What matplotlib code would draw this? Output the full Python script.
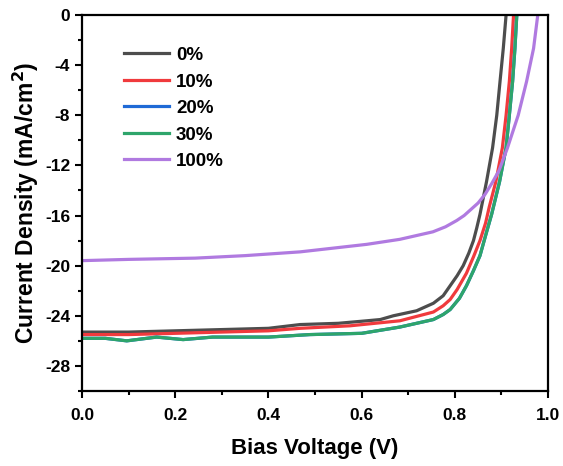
import matplotlib
matplotlib.use('Agg')
import matplotlib.pyplot as plt
from matplotlib.ticker import MultipleLocator

plt.rcParams['font.family'] = ['Liberation Sans', 'DejaVu Sans']
plt.rcParams['font.weight'] = 'bold'

labels = ['0%', '10%', '20%', '30%', '100%']
colors = ['#4d4d4d', '#f03a3d', '#1f6ad6', '#2ea56b', '#b07ae0']

v_0 = [0.0, 0.1, 0.2, 0.3, 0.4, 0.468, 0.55, 0.611, 0.64, 0.668, 0.718, 0.754, 0.775, 0.79,
       0.805, 0.818, 0.83, 0.84, 0.847, 0.854, 0.868, 0.881, 0.89, 0.897, 0.904, 0.91]
j_0 = [-25.3, -25.3, -25.2, -25.1, -25.0, -24.7, -24.6, -24.4, -24.3, -24.0, -23.6, -23.0, -22.4, -21.6,
       -20.8, -20.0, -19.0, -18.0, -17.0, -15.9, -13.3, -10.6, -8.0, -5.3, -2.66, 0.0]

v_10 = [0.0, 0.1, 0.2, 0.3, 0.4, 0.468, 0.575, 0.682, 0.754, 0.775, 0.79, 0.805, 0.825,
        0.84, 0.854, 0.866, 0.874, 0.888, 0.902, 0.91, 0.917, 0.922, 0.926]
j_10 = [-25.5, -25.5, -25.4, -25.3, -25.2, -25.0, -24.8, -24.4, -23.7, -23.2, -22.7, -21.9, -20.6,
        -19.3, -18.0, -16.6, -15.3, -13.3, -10.6, -8.0, -5.3, -2.66, 0.0]

v_20 = [0.0, 0.05, 0.096, 0.16, 0.217, 0.28, 0.4, 0.489, 0.6, 0.682, 0.754, 0.775, 0.79,
        0.81, 0.825, 0.84, 0.854, 0.866, 0.879, 0.896, 0.91, 0.917, 0.924, 0.929, 0.933]
j_20 = [-25.8, -25.8, -26.0, -25.7, -25.9, -25.7, -25.7, -25.5, -25.4, -24.9, -24.3, -23.9, -23.5,
        -22.6, -21.6, -20.4, -19.2, -17.6, -15.9, -13.3, -10.6, -8.0, -5.3, -2.66, 0.0]

v_30 = [0.0, 0.05, 0.096, 0.16, 0.217, 0.28, 0.4, 0.489, 0.6, 0.682, 0.754, 0.775, 0.79,
        0.81, 0.825, 0.84, 0.854, 0.866, 0.879, 0.896, 0.91, 0.917, 0.924, 0.929, 0.933]
j_30 = [-25.8, -25.8, -26.0, -25.7, -25.9, -25.7, -25.7, -25.5, -25.4, -24.9, -24.3, -23.9, -23.5,
        -22.6, -21.6, -20.4, -19.2, -17.6, -15.9, -13.3, -10.6, -8.0, -5.3, -2.66, 0.0]

v_100 = [0.0, 0.1, 0.243, 0.35, 0.468, 0.611, 0.682, 0.753, 0.78, 0.804, 0.82, 0.835, 0.85,
         0.865, 0.88, 0.895, 0.913, 0.936, 0.954, 0.969, 0.978]
j_100 = [-19.6, -19.5, -19.4, -19.2, -18.9, -18.3, -17.9, -17.3, -16.9, -16.4, -16.0, -15.5, -15.0,
         -14.3, -13.4, -12.4, -10.6, -8.0, -5.3, -2.66, 0.0]

fig = plt.figure(figsize=(5.63, 4.66), dpi=100)
ax = fig.add_axes([0.1457, 0.161, 0.8277, 0.8068])

for v, j, c, lab in zip([v_0, v_10, v_20, v_30, v_100], [j_0, j_10, j_20, j_30, j_100], colors, labels):
    ax.plot(v, j, color=c, lw=2.3, label=lab, solid_joinstyle='round')

ax.set_xlim(0, 1.0)
ax.set_ylim(-30, 0)
ax.xaxis.set_major_locator(MultipleLocator(0.2))
ax.xaxis.set_minor_locator(MultipleLocator(0.1))
ax.yaxis.set_minor_locator(MultipleLocator(2))
ax.set_yticks([0, -4, -8, -12, -16, -20, -24, -28])
ax.set_yticklabels(['0', '-4', '-8', '-12', '-16', '-20', '-24', '-28'])
ax.tick_params(which='major', direction='out', length=5, width=1.5, labelsize=12.5)
ax.tick_params(axis='x', which='major', pad=7)
ax.tick_params(which='minor', direction='out', length=3, width=1.5)
for s in ax.spines.values():
    s.set_linewidth(1.6)
for lbl in ax.get_xticklabels() + ax.get_yticklabels():
    lbl.set_fontweight('bold')

ax.set_xlabel('Bias Voltage (V)', fontsize=16, fontweight='bold', labelpad=11)
ax.set_ylabel('Current Density (mA/cm$^\\mathbf{2}$)', fontsize=16.5, fontweight='bold', labelpad=3)

leg = ax.legend(loc='upper left', frameon=False, fontsize=13.5, handlelength=2.4,
                borderaxespad=0.5, bbox_to_anchor=(0.053, 0.96), labelspacing=0.5,
                handletextpad=0.4)
for t in leg.get_texts():
    t.set_fontweight('bold')

fig.savefig('out.png', dpi=100)
